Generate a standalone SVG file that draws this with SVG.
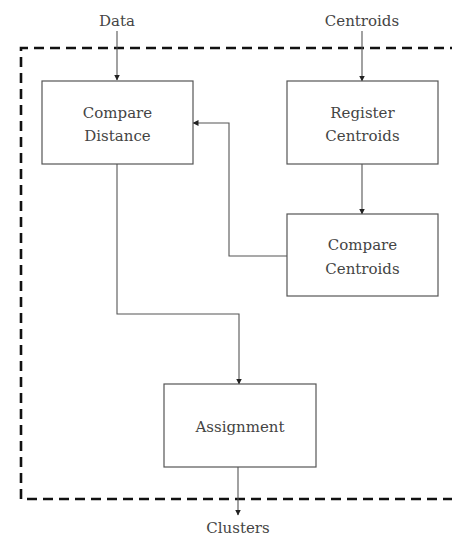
<svg xmlns="http://www.w3.org/2000/svg" width="452" height="539" viewBox="0 0 452 539">
<defs>
<style>
.box{fill:#fff;stroke:#555;stroke-width:1.2}
.lbl{font-family:'DejaVu Serif',serif;font-size:15px;fill:#444;text-anchor:middle}
.edge{fill:none;stroke:#555;stroke-width:1.1}
.frame{fill:none;stroke:#111;stroke-width:2.6;stroke-dasharray:10 6}
</style>
<marker id="ah" viewBox="0 0 6 6" refX="5.5" refY="3" markerWidth="6" markerHeight="6" markerUnits="userSpaceOnUse" orient="auto">
<path d="M0,0 L6,3 L0,6 z" fill="#222"/>
</marker>
</defs>
<rect width="452" height="539" fill="#fff"/>
<g id="frame">
<path class="frame" d="M460,48 L21,48 L21,499 L460,499"/>
</g>
<g id="connectors">
<path class="edge" d="M117,31 L117,80" marker-end="url(#ah)"/>
<path class="edge" d="M362,31 L362,81" marker-end="url(#ah)"/>
<path class="edge" d="M362,164 L362,214" marker-end="url(#ah)"/>
<path class="edge" d="M287,256 L229,256 L229,123 L193,123" marker-end="url(#ah)"/>
<path class="edge" d="M117,164 L117,314 L239,314 L239,384" marker-end="url(#ah)"/>
<path class="edge" d="M238,467 L238,515" marker-end="url(#ah)"/>
</g>
<g id="data-label"><text class="lbl" x="117" y="26">Data</text></g>
<g id="centroids-label"><text class="lbl" x="362" y="26">Centroids</text></g>
<g id="compare-distance">
<rect class="box" x="42" y="81" width="151" height="83"/>
<text class="lbl" x="117.5" y="118">Compare</text>
<text class="lbl" x="117.5" y="141">Distance</text>
</g>
<g id="register-centroids">
<rect class="box" x="287" y="81" width="151" height="83"/>
<text class="lbl" x="362.5" y="118">Register</text>
<text class="lbl" x="362.5" y="141">Centroids</text>
</g>
<g id="compare-centroids">
<rect class="box" x="287" y="214" width="151" height="82"/>
<text class="lbl" x="362.5" y="250">Compare</text>
<text class="lbl" x="362.5" y="274">Centroids</text>
</g>
<g id="assignment">
<rect class="box" x="164" y="384" width="152" height="83"/>
<text class="lbl" x="240" y="432">Assignment</text>
</g>
<g id="clusters-label"><text class="lbl" x="238" y="533">Clusters</text></g>
</svg>
